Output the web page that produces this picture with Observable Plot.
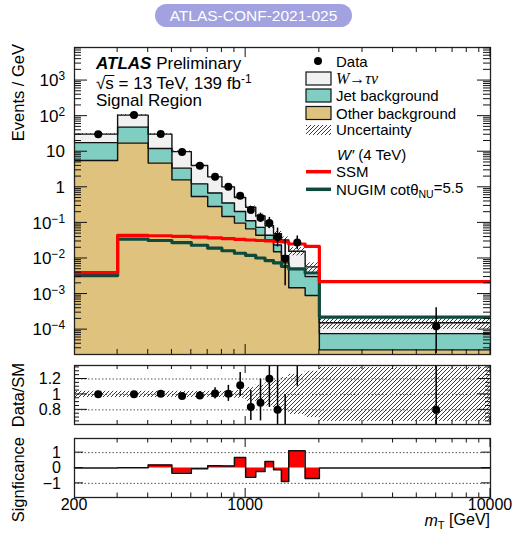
<!DOCTYPE html>
<html>
<head>
<meta charset="utf-8">
<script src="https://cdn.jsdelivr.net/npm/d3@7"></script>
<script src="https://cdn.jsdelivr.net/npm/@observablehq/plot@0.6"></script>
<style>
  body { margin: 0; background: #fff; }
  #wrap { position: relative; width: 513px; height: 533px; overflow: hidden; font-family: "Liberation Sans", Arial, sans-serif; }
  #wrap svg { display: block; }
  .pill { position: absolute; left: 155px; top: 4px; width: 197px; height: 23px; border-radius: 12px;
          background: #a2a2e0; color: #fff; font: 15.5px "Liberation Sans", Arial, sans-serif;
          text-align: center; line-height: 23px; z-index: 2; }
</style>
</head>
<body>
<div id="wrap">
  <div class="pill">ATLAS-CONF-2021-025</div>
</div>
<script>
// mT binning [GeV]
const edges = [200, 300, 400, 500, 600, 700, 800, 900, 1000, 1100, 1200, 1300, 1400, 1500, 1750, 2000, 10000];

// Background components, events / GeV
const otherBkg = [5.66, 17.4, 4.79, 1.62, 0.552, 0.289, 0.151, 0.0986, 0.068, 0.045, 0.033, 0.0155, 0.0075, 0.0015, 0.00091, 2.7e-5];
const jetBkg   = [12.4, 31.7, 7.5, 1.84, 0.70, 0.40, 0.21, 0.11, 0.047, 0.030, 0.012, 0.0085, 0.0045, 0.0037, 0.0022, 5.0e-5];
const wTauNu   = [13.1, 57.6, 18.9, 6.64, 2.85, 1.28, 0.67, 0.31, 0.16, 0.082, 0.038, 0.026, 0.021, 0.0108, 0.0027, 7.9e-5];

// Relative total background uncertainty per bin
const bkgUnc = [0.04, 0.04, 0.04, 0.04, 0.04, 0.04, 0.04, 0.05, 0.09, 0.12, 0.15, 0.18, 0.22, 0.26, 0.30, 0.35];

// Observed event counts per bin
const dataCounts = [3120, 10700, 3150, 990, 405, 199, 104, 58, 23, 14, 10, 4, 1, 7, 0, 1];

// W' (4 TeV) signal shapes, events / GeV
const ssm   = [0.0040, 0.0445, 0.0435, 0.042, 0.040, 0.038, 0.036, 0.0345, 0.033, 0.032, 0.031, 0.030, 0.029, 0.0255, 0.0218, 0.00224];
const nugim = [0.0033, 0.035, 0.032, 0.028, 0.0235, 0.0195, 0.0165, 0.014, 0.0122, 0.0103, 0.0087, 0.0075, 0.006, 0.0051, 0.0039, 0.000225];

// Per-bin significance
const significance = [0, 0.02, 0.19, -0.34, -0.05, 0.15, 0.13, 0.69, -0.6, -0.22, 0.43, -0.11, -0.88, 1.12, -0.69, 0];

// Axis tick values and labels
const xMajor = [1000, 10000];
const xMinor = [300, 400, 500, 600, 700, 800, 900, 2000, 3000, 4000, 5000, 6000, 7000, 8000, 9000];
const xLabels = [200, 1000, 10000];
const yDecades = [-4, -3, -2, -1, 0, 1, 2, 3];
const ratioLabels = [0.8, 1, 1.2];
const sigLabels = [-1, 0, 1];

const FONT = "'Liberation Sans', Arial, Helvetica, sans-serif";
const Y_MIN = 2e-5, Y_MAX = 8.5e3;
const nb = edges.length - 1;

// Stacked tops
const stackOther = otherBkg.slice();
const stackJet = otherBkg.map((v, i) => v + jetBkg[i]);
const stackTotal = stackJet.map((v, i) => v + wTauNu[i]);

// Step-function points (low edge of each bin, plus the final edge)
function steps(vals) {
  const pts = vals.map((v, i) => ({x: edges[i], v}));
  pts.push({x: edges[nb], v: vals[nb - 1]});
  return pts;
}

// Approximate Poisson (Garwood) 68% interval
function poissonLo(n) { return n === 0 ? 0 : n * Math.pow(1 - 1 / (9 * n) - 1 / (3 * Math.sqrt(n)), 3); }
function poissonHi(n) { const m = n + 1; return m * Math.pow(1 - 1 / (9 * m) + 1 / (3 * Math.sqrt(m)), 3); }

const bins = d3.range(nb).map(i => {
  const w = edges[i + 1] - edges[i];
  const n = dataCounts[i];
  return {
    x1: edges[i], x2: edges[i + 1], xc: (edges[i] + edges[i + 1]) / 2,
    total: stackTotal[i], unc: bkgUnc[i], n,
    data: n / w, lo: poissonLo(n) / w, hi: poissonHi(n) / w,
    ratio: (n / w) / stackTotal[i], rLo: poissonLo(n) / w / stackTotal[i], rHi: poissonHi(n) / w / stackTotal[i]
  };
});
const withData = bins.filter(b => b.n > 0);

function hatchDefs(svg, id) {
  const p = d3.select(svg).insert("defs", ":first-child")
    .append("pattern").attr("id", id).attr("patternUnits", "userSpaceOnUse")
    .attr("width", 4).attr("height", 4);
  p.append("path").attr("d", "M-1,1 l2,-2 M0,4 l4,-4 M3,5 l2,-2")
    .attr("stroke", "#262626").attr("stroke-width", 0.9);
}

// Inward ticks on all four sides of a panel
function frameTicks(svg, xt, yt) {
  const sx = svg.scale("x"), sy = svg.scale("y");
  const [xl, xr] = sx.range, [yb, yt0] = sy.range;
  const g = d3.select(svg).append("g").attr("stroke", "#111").attr("stroke-width", 1);
  for (const [v, len] of xt) {
    const px = sx.apply(v);
    g.append("line").attr("x1", px).attr("x2", px).attr("y1", yb).attr("y2", yb - len);
    g.append("line").attr("x1", px).attr("x2", px).attr("y1", yt0).attr("y2", yt0 + len);
  }
  for (const [v, len] of yt) {
    const py = sy.apply(v);
    g.append("line").attr("x1", xl).attr("x2", xl + len).attr("y1", py).attr("y2", py);
    g.append("line").attr("x1", xr).attr("x2", xr - len).attr("y1", py).attr("y2", py);
  }
}

function xTickList(major, minor) {
  return xMajor.map(v => [v, major]).concat(xMinor.map(v => [v, minor]));
}

function textGroup(svg, size, anchor) {
  return d3.select(svg).append("g").attr("font-family", FONT).attr("font-size", size)
    .attr("fill", "#000").attr("text-anchor", anchor);
}

const common = {
  width: 513, marginLeft: 74, marginRight: 23,
  style: {background: "transparent", overflow: "visible", fontFamily: FONT}
};
const xScale = {type: "log", domain: [200, 10000], axis: null};

// ---------- Main panel (page y 0..360) ----------
const main = Plot.plot({
  ...common, height: 360, marginTop: 47, marginBottom: 6,
  x: xScale,
  y: {type: "log", domain: [Y_MIN, Y_MAX], axis: null},
  marks: [
    Plot.areaY(steps(stackTotal), {x: "x", y1: () => Y_MIN, y2: "v", curve: "step-after", fill: "#f1f1f1", clip: true}),
    Plot.areaY(steps(stackJet), {x: "x", y1: () => Y_MIN, y2: "v", curve: "step-after", fill: "#80cdc1", clip: true}),
    Plot.areaY(steps(stackOther), {x: "x", y1: () => Y_MIN, y2: "v", curve: "step-after", fill: "#dfc27d", clip: true}),
    Plot.line(steps(stackTotal), {x: "x", y: "v", curve: "step-after", stroke: "#111", strokeWidth: 1.4, clip: true}),
    Plot.line(steps(stackJet), {x: "x", y: "v", curve: "step-after", stroke: "#111", strokeWidth: 1.4, clip: true}),
    Plot.line(steps(stackOther), {x: "x", y: "v", curve: "step-after", stroke: "#111", strokeWidth: 1.4, clip: true}),
    Plot.rect(bins, {x1: "x1", x2: "x2", y1: d => d.total * (1 - d.unc), y2: d => d.total * (1 + d.unc), fill: "url(#hatch-main)", clip: true}),
    Plot.line(steps(nugim), {x: "x", y: "v", curve: "step-after", stroke: "#0d4a3c", strokeWidth: 3.2, clip: true}),
    Plot.line(steps(ssm), {x: "x", y: "v", curve: "step-after", stroke: "#ff0000", strokeWidth: 3.2, clip: true}),
    Plot.ruleX(withData, {x: "xc", y1: "lo", y2: "hi", stroke: "#000", strokeWidth: 1.5, clip: true}),
    Plot.dot(withData, {x: "xc", y: "data", r: 4, fill: "#000", clip: true}),
    Plot.frame({stroke: "#222", strokeWidth: 1.3})
  ]
});
hatchDefs(main, "hatch-main");
let sqrtText;
{
  const yt = [];
  for (let e = -5; e <= 3; e++) {
    if (e >= -4) yt.push([Math.pow(10, e), 13]);
    for (let k = 2; k <= 9; k++) {
      const v = k * Math.pow(10, e);
      if (v > Y_MIN && v < Y_MAX) yt.push([v, 7]);
    }
  }
  frameTicks(main, xTickList(10, 5), yt);
  const sy = main.scale("y");
  const lab = textGroup(main, 17, "end");
  for (const e of yDecades) {
    const t = lab.append("text").attr("x", 65).attr("y", sy.apply(Math.pow(10, e))).attr("dy", "0.36em");
    if (e === 0) t.text("1");
    else if (e === 1) t.text("10");
    else {
      t.append("tspan").text("10");
      t.append("tspan").attr("dy", "-0.5em").attr("font-size", "0.7em").text(e < 0 ? "\u2212" + (-e) : String(e));
    }
  }
  textGroup(main, 16.5, "end").append("text")
    .attr("transform", "translate(24,44) rotate(-90)").text("Events / GeV");

  // ATLAS label
  const al = textGroup(main, 17, "start");
  const t1 = al.append("text").attr("x", 96).attr("y", 69);
  t1.append("tspan").attr("font-weight", "bold").attr("font-style", "italic").text("ATLAS");
  t1.append("tspan").text(" Preliminary");
  sqrtText = al.append("text").attr("x", 96).attr("y", 89);
  sqrtText.append("tspan").text("\u221As = 13 TeV, 139 fb");
  sqrtText.append("tspan").attr("dy", "-0.5em").attr("font-size", "0.7em").text("-1");
  al.append("text").attr("x", 96).attr("y", 106).text("Signal Region");

  // Legend
  const lg = textGroup(main, 15, "start");
  const tx = 336, bx = 306, bw = 25;
  lg.append("circle").attr("cx", 318).attr("cy", 61).attr("r", 4);
  lg.append("text").attr("x", tx).attr("y", 66.5).text("Data");
  const boxes = [[78.5, "#f1f1f1"], [95.5, "#80cdc1"], [113, "#dfc27d"]];
  for (const [cy, c] of boxes) {
    lg.append("rect").attr("x", bx).attr("y", cy - 6.5).attr("width", bw).attr("height", 13)
      .attr("fill", c).attr("stroke", "#111").attr("stroke-width", 1.2);
  }
  const tw = lg.append("text").attr("x", tx).attr("y", 84).attr("font-family", "'Liberation Serif', 'Times New Roman', serif").attr("font-size", 16);
  tw.append("tspan").attr("font-style", "italic").text("W");
  tw.append("tspan").attr("font-family", FONT).text("\u2192");
  tw.append("tspan").attr("font-style", "italic").text("\u03C4\u03BD");
  lg.append("text").attr("x", tx).attr("y", 101).text("Jet background");
  lg.append("text").attr("x", tx).attr("y", 118.5).text("Other background");
  lg.append("rect").attr("x", bx).attr("y", 125).attr("width", bw).attr("height", 10).attr("fill", "url(#hatch-main)");
  lg.append("text").attr("x", tx).attr("y", 135).text("Uncertainty");
  const tp = lg.append("text").attr("x", tx + 1).attr("y", 159.5);
  tp.append("tspan").attr("font-style", "italic").text("W\u2032");
  tp.append("tspan").text(" (4 TeV)");
  lg.append("line").attr("x1", bx).attr("x2", bx + bw).attr("y1", 171.7).attr("y2", 171.7).attr("stroke", "#ff0000").attr("stroke-width", 3.5);
  lg.append("text").attr("x", tx).attr("y", 177).text("SSM");
  lg.append("line").attr("x1", bx).attr("x2", bx + bw).attr("y1", 189.3).attr("y2", 189.3).attr("stroke", "#0d4a3c").attr("stroke-width", 3.5);
  const tn = lg.append("text").attr("x", tx).attr("y", 194.5);
  tn.append("tspan").text("NUGIM cot\u03B8");
  tn.append("tspan").attr("dy", "0.3em").attr("font-size", "0.7em").text("NU");
  tn.append("tspan").attr("dy", "-0.3em").text("=5.5");
}

// ---------- Ratio panel (page y 360..430) ----------
const ratio = Plot.plot({
  ...common, height: 70, marginTop: 5, marginBottom: 6,
  x: xScale,
  y: {domain: [0.61, 1.375], axis: null},
  marks: [
    Plot.rect(bins, {x1: "x1", x2: "x2", y1: d => 1 - d.unc, y2: d => 1 + d.unc, fill: "url(#hatch-ratio)", clip: true}),
    Plot.ruleY(ratioLabels, {stroke: "#555", strokeWidth: 1, strokeDasharray: "1.5,2"}),
    Plot.ruleX(withData, {x: "xc", y1: "rLo", y2: "rHi", stroke: "#000", strokeWidth: 1.5, clip: true}),
    Plot.dot(withData, {x: "xc", y: "ratio", r: 4, fill: "#000", clip: true}),
    Plot.frame({stroke: "#222", strokeWidth: 1.3})
  ]
});
hatchDefs(ratio, "hatch-ratio");
{
  const yt = [];
  for (let v = 0.65; v < 1.37; v += 0.05) {
    const r = Math.round(v * 100) / 100;
    yt.push([r, [0.8, 1, 1.2].includes(r) ? 13 : 5]);
  }
  frameTicks(ratio, xTickList(8, 4), yt);
  const sy = ratio.scale("y");
  const lab = textGroup(ratio, 16, "end");
  for (const v of ratioLabels) lab.append("text").attr("x", 61).attr("y", sy.apply(v)).attr("dy", "0.36em").text(String(v));
  textGroup(ratio, 16.5, "end").append("text")
    .attr("transform", "translate(24,3) rotate(-90)").text("Data/SM");
}

// ---------- Significance panel (page y 430..533) ----------
const sig = Plot.plot({
  ...common, height: 103, marginTop: 8, marginBottom: 36,
  x: xScale,
  y: {domain: [-1.92, 1.92], axis: null},
  marks: [
    Plot.ruleY([-1, 1], {stroke: "#555", strokeWidth: 1, strokeDasharray: "1.5,2"}),
    Plot.areaY(steps(significance), {x: "x", y1: () => 0, y2: "v", curve: "step-after", fill: "#ff0000"}),
    Plot.line(steps(significance), {x: "x", y: "v", curve: "step-after", stroke: "#111", strokeWidth: 1.5}),
    Plot.frame({stroke: "#222", strokeWidth: 1.3})
  ]
});
{
  frameTicks(sig, xTickList(9, 4.5), sigLabels.map(v => [v, 9]));
  const sx = sig.scale("x"), sy = sig.scale("y");
  const lab = textGroup(sig, 16, "end");
  for (const v of sigLabels) lab.append("text").attr("x", 61).attr("y", sy.apply(v)).attr("dy", "0.36em").text(v < 0 ? "\u2212" + (-v) : String(v));
  const xl = textGroup(sig, 16, "middle");
  for (const v of xLabels) xl.append("text").attr("x", sx.apply(v)).attr("y", 80).text(String(v));
  const mt = textGroup(sig, 16, "end").append("text").attr("x", 490).attr("y", 96);
  mt.append("tspan").attr("font-style", "italic").text("m");
  mt.append("tspan").attr("dy", "0.3em").attr("font-size", "0.7em").text("T");
  mt.append("tspan").attr("dy", "-0.3em").text(" [GeV]");
  textGroup(sig, 16.5, "end").append("text")
    .attr("transform", "translate(24,7) rotate(-90)").text("Signficance");
}

const wrap = document.getElementById("wrap");
wrap.append(main, ratio, sig);

// Overbar for the square root, placed over the "s" once the text is laid out
{
  const node = sqrtText.node();
  const s0 = node.getStartPositionOfChar(1);
  const sw = node.getSubStringLength(1, 1);
  d3.select(main).append("line")
    .attr("x1", s0.x - 0.5).attr("x2", s0.x + sw + 0.5)
    .attr("y1", 75.5).attr("y2", 75.5)
    .attr("stroke", "#000").attr("stroke-width", 1);
}
</script>
</body>
</html>
